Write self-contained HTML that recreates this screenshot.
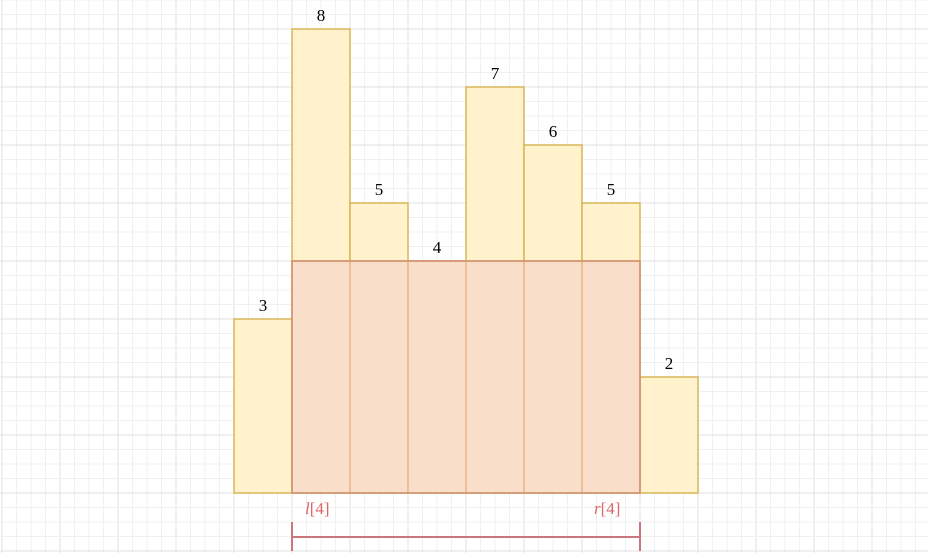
<!DOCTYPE html>
<html><head><meta charset="utf-8"><style>
html,body{margin:0;padding:0;background:#fff;}
svg{display:block;}
text{font-family:"Liberation Serif",serif;}
</style></head><body>
<svg id="c" width="928" height="553" xmlns="http://www.w3.org/2000/svg">
<g id="grid"></g>
<g id="bars"></g>
<g id="overlay"></g>
<g id="labels"></g>
<g>
<line x1="292" y1="522" x2="292" y2="551" stroke="#c9777a" stroke-width="2"/>
<line x1="640" y1="522" x2="640" y2="551" stroke="#c9777a" stroke-width="2"/>
<line x1="292" y1="537" x2="640" y2="537" stroke="#c9777a" stroke-width="2"/>
<text x="305" y="514" font-size="17" fill="#e06666" font-style="italic">l<tspan font-style="normal">[4]</tspan></text>
<text x="594" y="514" font-size="17" fill="#e06666" font-style="italic">r<tspan font-style="normal">[4]</tspan></text>
</g>
</svg>
<script>
const heights = [3, 8, 5, 4, 7, 6, 5, 2];
const rangeStart = 1, rangeEnd = 6, rectHeight = 4;
const NS = "http://www.w3.org/2000/svg";
const x0 = 234, bw = 58, base = 493, unit = 58;
const xs = i => x0 + i * bw;
const ys = v => base - v * unit;
function mk(tag, attrs, parent){const e=document.createElementNS(NS,tag);for(const k in attrs)e.setAttribute(k,attrs[k]);parent.appendChild(e);return e;}
const grid = document.getElementById('grid');
for (let x = 2 - 58; x <= 928; x += 14.5) {
  const major = Math.abs(((x - 2) / 58) - Math.round((x - 2) / 58)) < 1e-6;
  const l = mk('line',{x1:x,y1:0,x2:x,y2:553,stroke:major?'#e0e0e0':'#f0f0f0','stroke-width':1},grid);
  
  
}
for (let y = base + 58; y >= -20; y -= 14.5) {
  const major = Math.abs(((base - y) / 58) - Math.round((base - y) / 58)) < 1e-6;
  const l = mk('line',{x1:0,y1:y,x2:928,y2:y,stroke:major?'#e0e0e0':'#f0f0f0','stroke-width':1},grid);
  
  
}
const bars = document.getElementById('bars'), labels = document.getElementById('labels');
heights.forEach((h, i) => {
  const r = mk('rect',{x:xs(i),y:ys(h),width:bw,height:h*unit,fill:'#fff2cc',stroke:'#d6b656','stroke-width':1.5},bars);
  
  
  const t = mk('text',{x:xs(i)+bw/2,y:ys(h)-8,'font-size':17,'text-anchor':'middle',fill:'#000'},labels);
  t.textContent = h;
  
  
});
const ov = document.getElementById('overlay');
for (let i = rangeStart; i <= rangeEnd; i++) {
  const r = mk('rect',{x:xs(i),y:ys(rectHeight),width:bw,height:rectHeight*unit,fill:'#f9dfca',stroke:'#e8b98a','stroke-width':1.5},ov);
  
  
}
const outline = mk('rect',{x:xs(rangeStart),y:ys(rectHeight),width:(rangeEnd-rangeStart+1)*bw,height:rectHeight*unit,fill:'none',stroke:'#cf8e6a','stroke-width':1.5},ov);


</script>
</body></html>
